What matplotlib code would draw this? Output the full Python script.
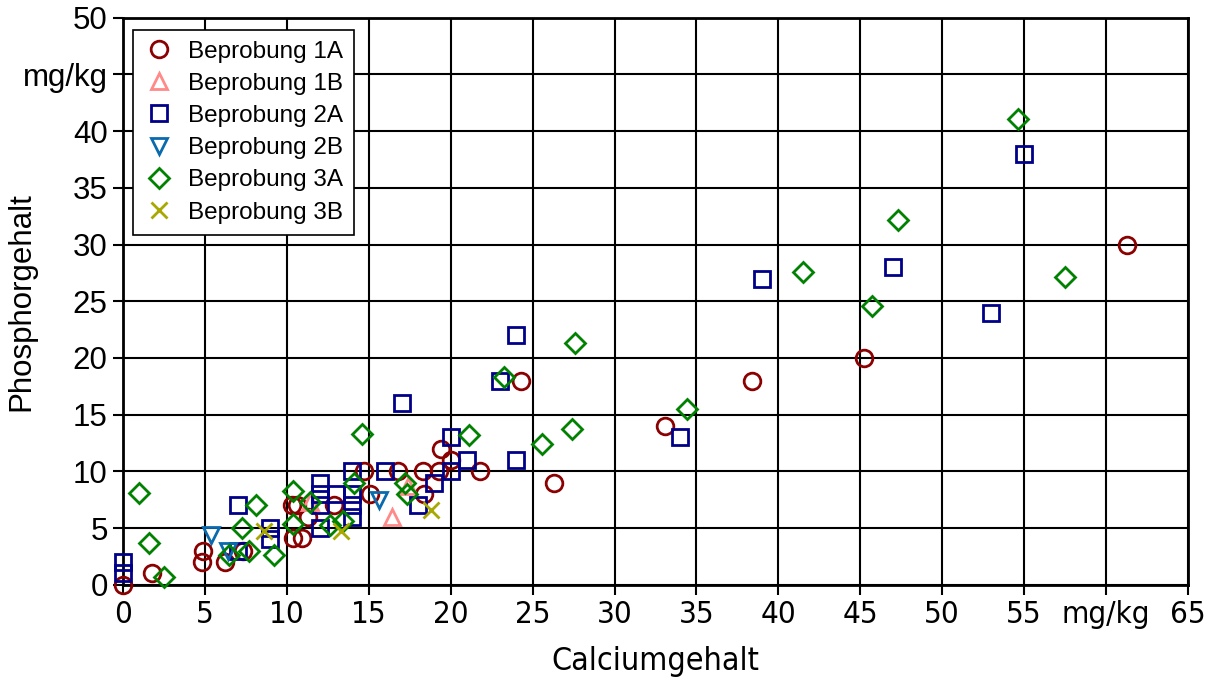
import matplotlib
matplotlib.use("Agg")
import matplotlib.pyplot as plt
from matplotlib import font_manager as fm

plt.rcParams['font.family'] = ['Liberation Sans', 'DejaVu Sans']

# schmale Schrift fuer die x-Achse, falls vorhanden
narrow = None
for f in fm.fontManager.ttflist:
    if ('Narrow' in f.fname or 'Condensed' in f.fname) and 'Bold' not in f.fname \
            and 'Oblique' not in f.fname and 'Italic' not in f.fname:
        if narrow is None or 'Liberation' in f.fname:
            narrow = f.fname

# Beprobung 1A (Kreise)
ca_1a = [0, 1.8, 4.8, 4.9, 6.2, 7.3, 10.3, 10.6, 10.4, 10.9, 11.3, 12.9, 14.7, 15.1,
         16.8, 18.3, 18.4, 19.3, 19.4, 20.0, 21.8, 24.3, 26.3, 33.1, 38.4, 45.2, 61.3]
p_1a = [0, 1.0, 2.0, 3.0, 2.0, 3.0, 7.0, 7.0, 4.1, 4.1, 6.0, 7.0, 10.0, 8.0,
        10.0, 10.0, 8.0, 10.0, 12.0, 11.0, 10.0, 18.0, 9.0, 14.0, 18.0, 20.0, 30.0]

# Beprobung 1B (Dreiecke)
ca_1b = [11.4, 16.4, 17.4]
p_1b = [7.3, 6.0, 8.7]

# Beprobung 2A (Quadrate)
ca_2a = [0, 0, 7, 7, 9, 9, 12, 12, 12, 12, 13, 14, 14, 14, 14, 16, 17, 18, 19, 20,
         20, 21, 23, 24, 24, 34, 39, 47, 53, 55]
p_2a = [2, 1, 7, 3, 5, 4, 9, 8, 7, 5, 8, 10, 8, 7, 6, 10, 16, 7, 9, 13,
        10, 11, 18, 22, 11, 13, 27, 28, 24, 38]

# Beprobung 2B (Dreiecke unten)
ca_2b = [5.4, 6.4, 15.6]
p_2b = [4.4, 3.0, 7.5]

# Beprobung 3A (Rauten)
ca_3a = [1.0, 1.6, 2.5, 6.5, 7.25, 7.7, 8.1, 9.2, 10.4, 10.4, 11.4, 12.65, 13.4, 14.1,
         14.6, 17.2, 17.35, 21.1, 23.25, 25.6, 27.4, 27.6, 34.4, 41.5, 45.7, 47.3, 54.6, 57.5]
p_3a = [8.1, 3.65, 0.7, 2.6, 5.0, 3.0, 7.0, 2.6, 8.3, 5.4, 7.3, 5.3, 5.6, 9.0,
        13.3, 9.0, 8.0, 13.2, 18.3, 12.4, 13.7, 21.3, 15.5, 27.6, 24.6, 32.2, 41.1, 27.1]

# Beprobung 3B (Kreuze)
ca_3b = [8.6, 13.3, 18.8]
p_3b = [4.7, 4.7, 6.6]

x_ticks = list(range(0, 70, 5))
x_labels = ['0', '5', '10', '15', '20', '25', '30', '35', '40', '45', '50', '55', 'mg/kg', '65']
y_ticks = list(range(0, 55, 5))
y_labels = ['0', '5', '10', '15', '20', '25', '30', '35', '40', 'mg/kg', '50']

series = [
    (ca_1a, p_1a, 'o', '#8B0000', 12, 'Beprobung 1A'),
    (ca_1b, p_1b, '^', '#FF8A8A', 12, 'Beprobung 1B'),
    (ca_2a, p_2a, 's', '#000088', 12, 'Beprobung 2A'),
    (ca_2b, p_2b, 'v', '#0A6AAE', 12, 'Beprobung 2B'),
    (ca_3a, p_3a, 'D', '#008200', 10.5, 'Beprobung 3A'),
    (ca_3b, p_3b, 'x', '#A8A800', 11, 'Beprobung 3B'),
]

fig = plt.figure(figsize=(12.14, 6.8), dpi=100)
ax = fig.add_axes([0.1013, 0.140, 0.8773, 0.834])

for xs, ys, m, c, ms, lab in series:
    ax.plot(xs, ys, linestyle='none', marker=m, markersize=ms, markerfacecolor='none',
            markeredgecolor=c, markeredgewidth=2.0, label=lab, clip_on=False, zorder=3)

ax.set_xlim(0, 65)
ax.set_ylim(0, 50)
ax.set_xticks(x_ticks)
ax.set_yticks(y_ticks)
ax.set_yticklabels(y_labels, fontsize=22.5)
if narrow is not None:
    ax.set_xticklabels(x_labels, fontproperties=fm.FontProperties(fname=narrow, size=22.5))
else:
    ax.set_xticklabels(x_labels, fontsize=19)
ax.tick_params(direction='out', length=7, width=1.5, color='black')
ax.tick_params(axis='x', pad=4)
ax.tick_params(axis='y', pad=4)
ax.grid(True, color='black', linewidth=1.5)
ax.set_axisbelow(True)
for s in ax.spines.values():
    s.set_linewidth(2)
    s.set_color('black')

if narrow is not None:
    ax.set_xlabel('Calciumgehalt', fontproperties=fm.FontProperties(fname=narrow, size=23), labelpad=12)
else:
    ax.set_xlabel('Calciumgehalt', fontsize=21, labelpad=12)
ax.set_ylabel('Phosphorgehalt', fontsize=22.5)
ax.yaxis.set_label_coords(-0.081, 0.5)

leg = ax.legend(loc='upper left', bbox_to_anchor=(0.009, 0.979), fontsize=17.5,
                frameon=True, fancybox=False, framealpha=1, edgecolor='black',
                borderaxespad=0, handletextpad=0.55, labelspacing=0.42,
                handlelength=1.3, borderpad=0.45)
leg.get_frame().set_linewidth(1.2)

fig.savefig('out.png', dpi=100)
